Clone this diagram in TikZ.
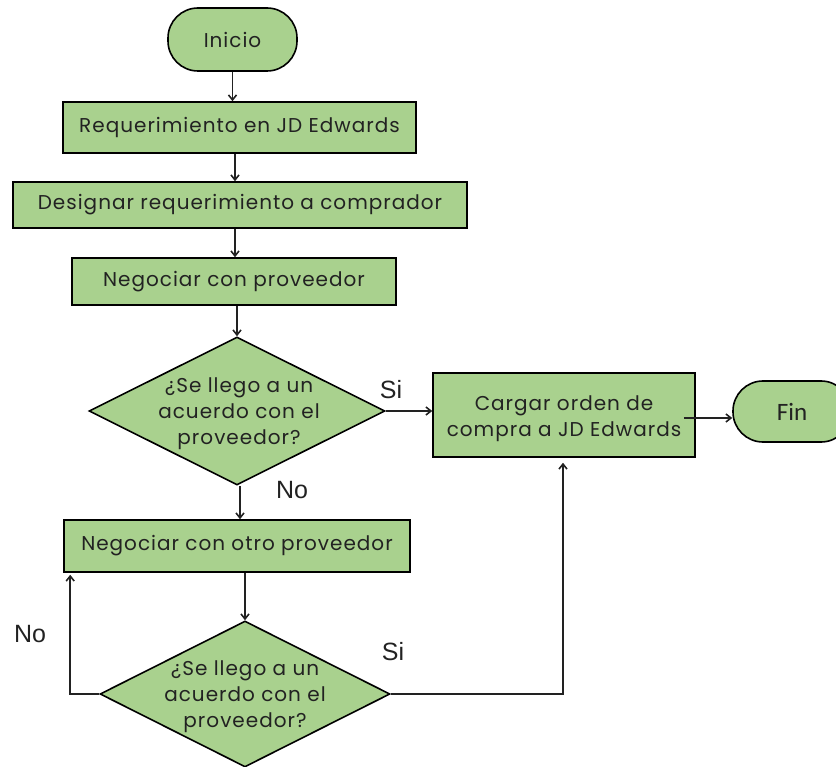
\documentclass[tikz,border=0pt]{standalone}
\usepackage{fontspec}
\setmainfont{Poppins}[LetterSpace=5]
\newfontfamily\labfont{Liberation Sans}
\newfontfamily\finfont{Carlito}
\usetikzlibrary{shapes.geometric,arrows.meta}
\definecolor{boxgreen}{HTML}{A9D18E}
\definecolor{txt}{HTML}{222222}
\begin{document}
\begin{tikzpicture}[x=1pt,y=-1pt,
  proc/.style={draw=black, line width=1.6pt, fill=boxgreen, text=txt, inner sep=0pt, align=center, font=\fontsize{20}{26}\selectfont},
  term/.style={proc, rounded corners=30pt},
  dec/.style={diamond, draw=black, line width=1.6pt, fill=boxgreen, inner sep=0pt},
  dtext/.style={text=txt, align=center, inner sep=0pt, font=\fontsize{20}{26}\selectfont},
  lab/.style={font=\labfont\fontsize{25}{28}\selectfont, text=txt, inner sep=0pt},
  arr/.style={-{Straight Barb[length=5pt,width=8pt]}, line width=1.6pt, draw=txt}]
\useasboundingbox (0,0) rectangle (836,767);
\clip (0,0) rectangle (836,767);

\node[term, minimum width=129pt, minimum height=63pt] (inicio) at (232.5,39.5) {Inicio};
\node[proc, minimum width=353pt, minimum height=51pt] (box1) at (239.5,127.5) {Requerimiento en JD Edwards};
\node[proc, minimum width=454pt, minimum height=46pt] (box2) at (240,205) {Designar requerimiento a comprador};
\node[proc, minimum width=324pt, minimum height=47pt] (box3) at (234,281.5) {Negociar con proveedor};
\node[dec, minimum width=296pt, minimum height=148pt] (d1) at (237,411) {};
\node[dtext] (d1t) at (239,414) {¿Se llego a un\\acuerdo con el\\proveedor?};
\node[proc, minimum width=262pt, minimum height=84pt] (box4) at (564,415) {};
\node[dtext] (box4t) at (564,419) {Cargar orden de\\compra a JD Edwards};
\node[term, minimum width=118pt, minimum height=61pt, font=\finfont\fontsize{25}{28}\selectfont] (fin) at (792,411.5) {Fin};
\node[proc, minimum width=346pt, minimum height=52pt] (box5) at (237,546) {Negociar con otro proveedor};
\node[dec, minimum width=290pt, minimum height=146pt] (d2) at (245,694) {};
\node[dtext] (d2t) at (245,697) {¿Se llego a un\\acuerdo con el\\proveedor?};

\node[lab] (si1) at (391,390) {Si};
\node[lab] (no1) at (292,490) {No};
\node[lab] (no2) at (30,634) {No};
\node[lab] (si2) at (393,652) {Si};

\draw[arr] (inicio.south) -- (inicio.south |- box1.north);
\draw[arr] ([xshift=-4.5pt]box1.south) -- ([xshift=-4.5pt]box1.south |- box2.north);
\draw[arr] ([xshift=-5pt]box2.south) -- ([xshift=-5pt]box2.south |- box3.north);
\draw[arr] (box3.south -| d1.north) -- (d1.north);
\draw[arr] ([xshift=3pt]d1.south) -- ([xshift=3pt]d1.south |- box5.north);
\draw[arr] (d1.east) -- (d1.east -| box4.west);
\draw[arr] ([xshift=-12pt,yshift=-3pt]box4.east) -- ([yshift=-6.5pt]fin.west);
\draw[arr] (box5.south -| d2.north) -- (d2.north);
\draw[arr, shorten >=2pt] (d2.west) -| ([xshift=7pt]box5.south west);
\draw[arr, shorten >=5pt] (d2.east) -| ([xshift=-1pt]box4.south);
\end{tikzpicture}
\end{document}
